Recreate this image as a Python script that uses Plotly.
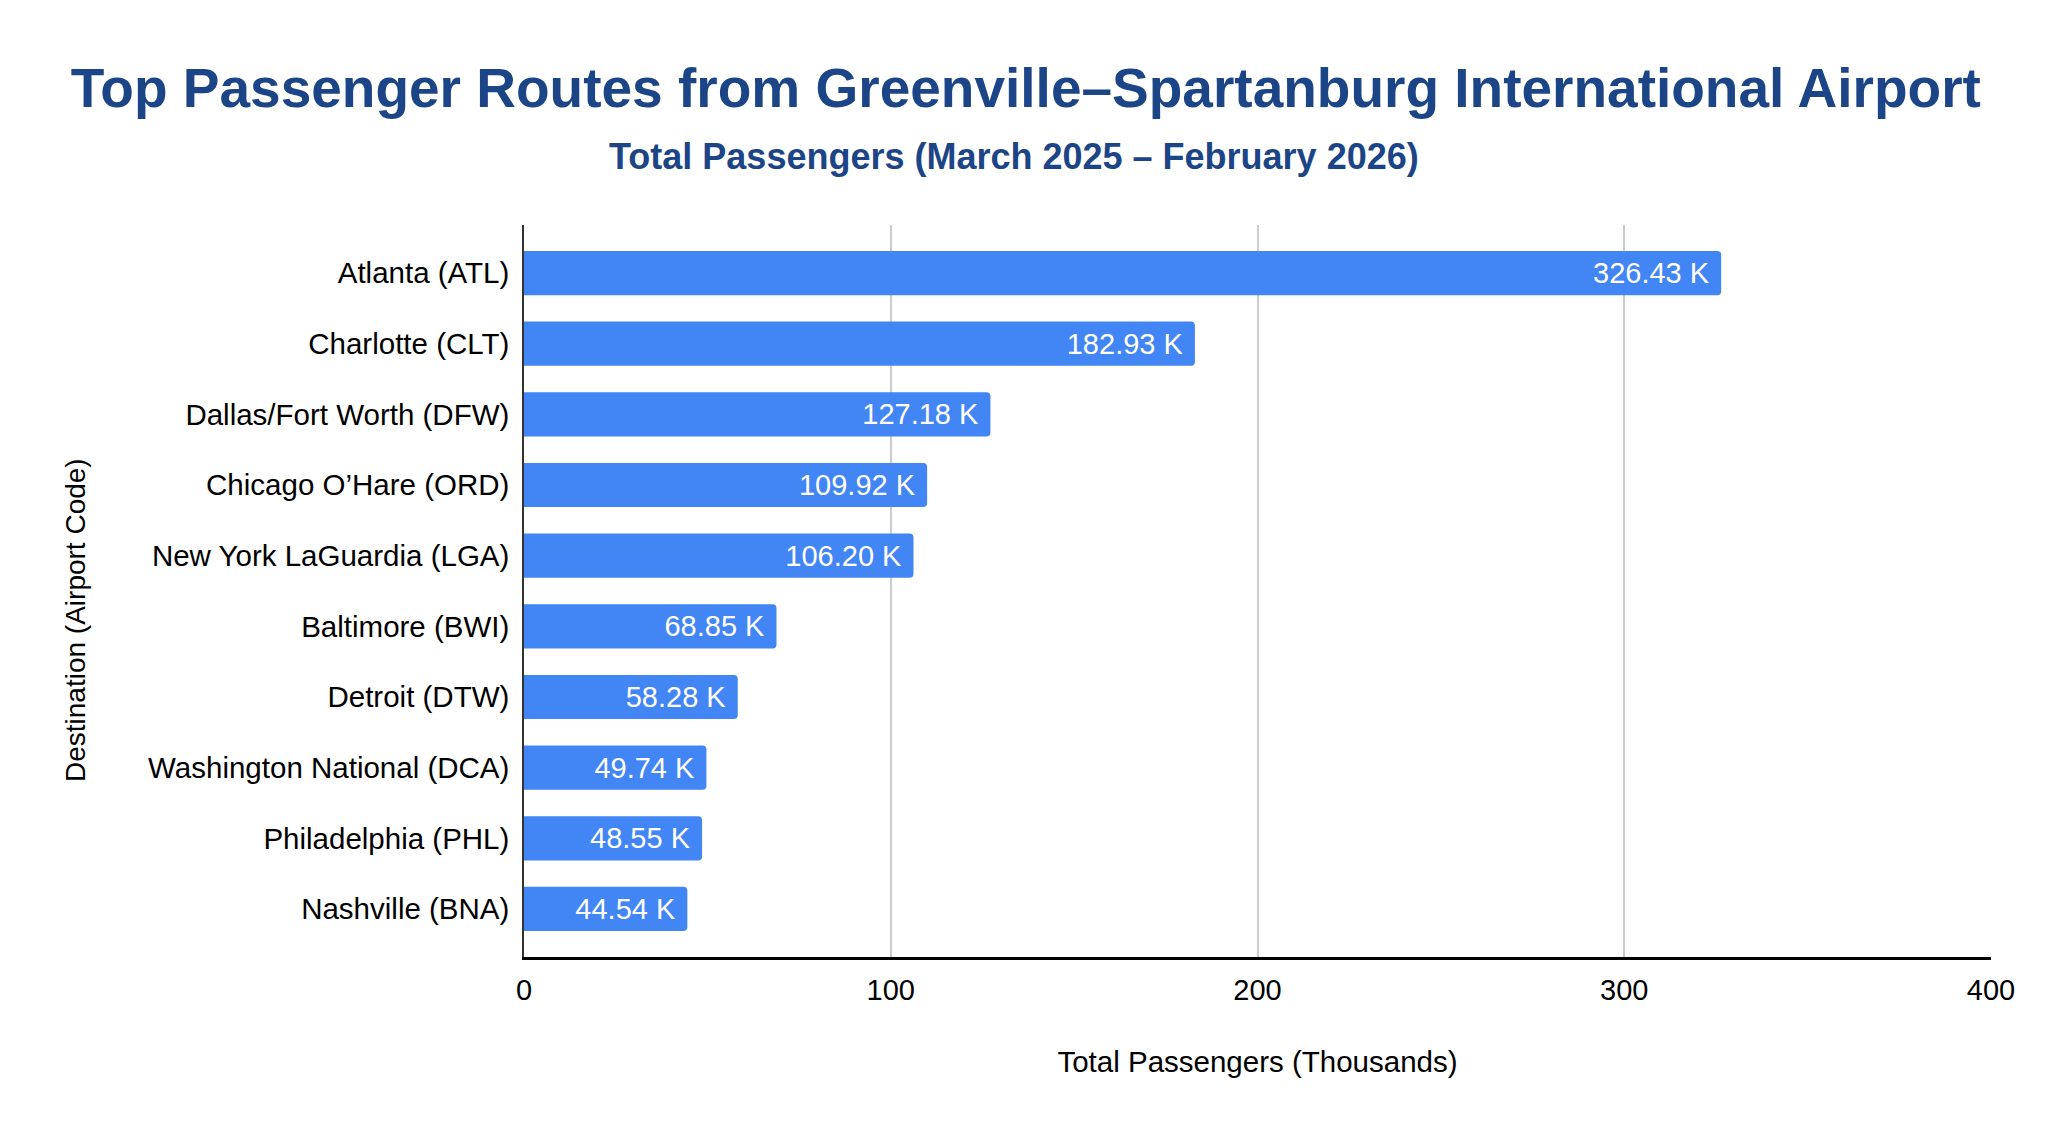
import plotly.graph_objects as go

# route data, passengers in thousands (Mar 2025 - Feb 2026)
destinations = [
    "Atlanta (ATL)",
    "Charlotte (CLT)",
    "Dallas/Fort Worth (DFW)",
    "Chicago O\u2019Hare (ORD)",
    "New York LaGuardia (LGA)",
    "Baltimore (BWI)",
    "Detroit (DTW)",
    "Washington National (DCA)",
    "Philadelphia (PHL)",
    "Nashville (BNA)",
]
passengers_k = [326.43, 182.93, 127.18, 109.92, 106.20, 68.85, 58.28, 49.74, 48.55, 44.54]
x_ticks = [0, 100, 200, 300, 400]

FONT = "Arial, Liberation Sans, sans-serif"
TITLE_BLUE = "#1c4587"
BAR_BLUE = "#4285f4"

# plot area in pixels
L, R, T, B = 516, 65, 217, 175
plot_w = 2048 - L - R
plot_h = 1124 - T - B

fig = go.Figure()
fig.add_trace(go.Bar(
    x=passengers_k,
    y=destinations,
    orientation="h",
    marker=dict(color=BAR_BLUE, line=dict(width=0)),
    texttemplate="%{x:.2f} K\u00a0",
    textposition="inside",
    insidetextanchor="end",
    textfont=dict(family=FONT, size=29, color="white"),
    hoverinfo="skip",
))

fig.update_layout(
    width=2048,
    height=1124,
    paper_bgcolor="white",
    plot_bgcolor="white",
    font=dict(family=FONT, size=29, color="#000000"),
    margin=dict(l=L, r=R, t=T, b=B),
    bargap=0.375,
    barcornerradius=4,
    showlegend=False,
    title=dict(
        text="<b>Top Passenger Routes from Greenville\u2013Spartanburg International Airport</b>",
        font=dict(family=FONT, size=55, color=TITLE_BLUE),
        x=0.497, xanchor="center",
        y=1 - 80 / 1124, yanchor="middle",
    ),
    annotations=[
        dict(
            text="<b>Total Passengers (March 2025 \u2013 February 2026)</b>",
            font=dict(family=FONT, size=36, color=TITLE_BLUE),
            xref="paper", yref="paper",
            x=(1006 - L) / plot_w, xanchor="center",
            y=(1124 - B - 148) / plot_h, yanchor="middle",
            showarrow=False,
        ),
        # y axis title sits a bit below the middle of the plot in the original
        dict(
            text="Destination (Airport Code)",
            font=dict(family=FONT, size=28, color="#000000"),
            textangle=-90,
            xref="paper", yref="paper",
            x=(67 - L) / plot_w, xanchor="center",
            y=(1124 - B - 612) / plot_h, yanchor="middle",
            showarrow=False,
        ),
    ],
)

fig.update_xaxes(
    range=[0, 400],
    tickvals=x_ticks,
    showgrid=True,
    gridcolor="#cccccc",
    gridwidth=1.5,
    zeroline=False,
    showline=True,
    linecolor="#000000",
    linewidth=2.5,
    ticks="",
    ticklabelstandoff=5,
    tickfont=dict(family=FONT, size=29, color="#000000"),
    title=dict(text="Total Passengers (Thousands)", standoff=47,
               font=dict(family=FONT, size=29.5, color="#000000")),
)

fig.update_yaxes(
    categoryorder="array",
    categoryarray=destinations,
    range=[9.68, -0.68],
    showgrid=False,
    zeroline=False,
    showline=True,
    linecolor="#333333",
    linewidth=1.5,
    ticks="",
    ticklabelstandoff=7,
    tickfont=dict(family=FONT, size=29.5, color="#000000"),
)

fig.write_html("out.html")
